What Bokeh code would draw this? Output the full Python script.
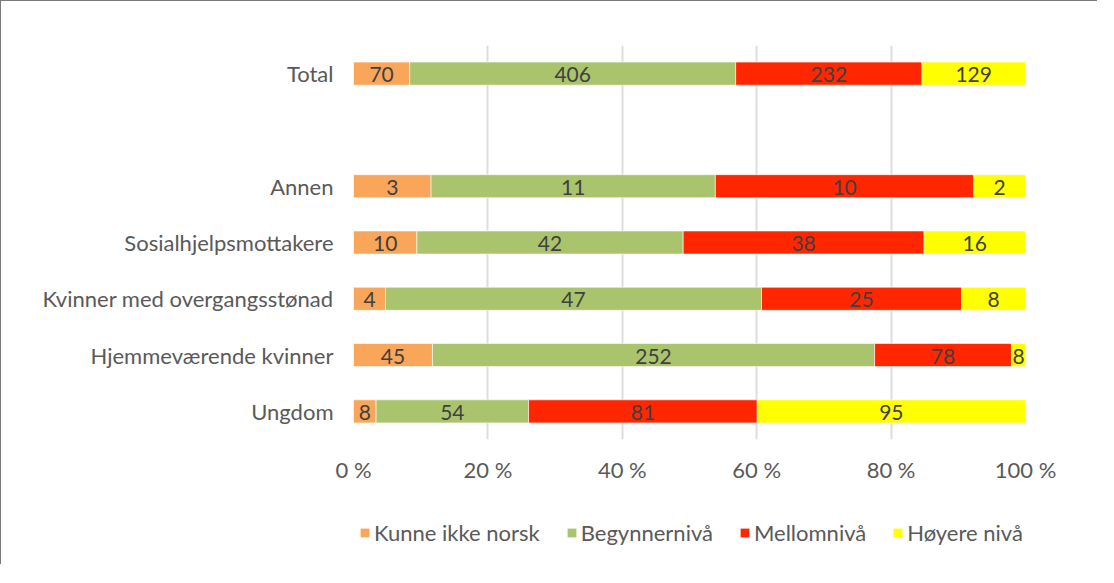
from bokeh.plotting import figure
from bokeh.models import ColumnDataSource, FactorRange, LabelSet, FixedTicker, Legend, LegendItem
from bokeh.core.properties import value
from bokeh.layouts import column
from bokeh.embed import file_html
from bokeh.resources import INLINE

categories = ["Ungdom", "Hjemmeværende kvinner", "Kvinner med overgangsstønad",
              "Sosialhjelpsmottakere", "Annen", "Total"]
factors = ["Ungdom", "Hjemmeværende kvinner", "Kvinner med overgangsstønad",
           "Sosialhjelpsmottakere", "Annen", " ", "Total"]
series = ["Kunne ikke norsk", "Begynnernivå", "Mellomnivå", "Høyere nivå"]
kunne = [8, 45, 4, 10, 3, 70]
begynner = [54, 252, 47, 42, 11, 406]
mellom = [81, 78, 25, 38, 10, 232]
hoyere = [95, 8, 8, 16, 2, 129]
colors = ["#F9A65A", "#A9C46C", "#FF2600", "#FFFF00"]
tick_vals = [0, 20, 40, 60, 80, 100]
tick_labels = {0: "0 %", 20: "20 %", 40: "40 %", 60: "60 %", 80: "80 %", 100: "100 %"}

FONT = "Lato"
BORDER = "1.5px solid #7a7a7a"
vals = [kunne, begynner, mellom, hoyere]
totals = [sum(v[i] for v in vals) for i in range(len(categories))]

p = figure(width=1097, height=494, y_range=FactorRange(*factors), x_range=(0, 100),
           output_backend="svg", toolbar_location=None,
           min_border_left=352, min_border_top=44, min_border_right=73, min_border_bottom=56)
p.styles = {"border-left": BORDER, "border-top": BORDER}

# legend strip below the chart (same frame alignment)
p2 = figure(width=1097, height=70, y_range=FactorRange(*factors), x_range=(0, 100),
            output_backend="svg", toolbar_location=None,
            x_axis_type=None, y_axis_type=None,
            min_border_left=352, min_border_right=73, min_border_top=0, min_border_bottom=0)
p2.styles = {"border-left": BORDER}
p2.grid.grid_line_color = None
p2.outline_line_color = None

items = []
lab_x, lab_y, lab_t = [], [], []
cum = [0.0] * len(categories)
for s, v, c in zip(series, vals, colors):
    left = [cum[i] for i in range(len(categories))]
    right = [cum[i] + 100.0 * v[i] / totals[i] for i in range(len(categories))]
    src = ColumnDataSource(dict(y=categories, left=left, right=right))
    p.hbar(y="y", left="left", right="right", height=0.41, source=src,
           fill_color=c, line_color="white", line_width=0.6)
    r2 = p2.hbar(y="y", left="left", right="right", height=0.41, source=src,
                 fill_color=c, line_color=None, visible=False)
    items.append(LegendItem(label=s, renderers=[r2]))
    for i in range(len(categories)):
        lab_x.append((left[i] + right[i]) / 2)
        lab_y.append(categories[i])
        lab_t.append(str(v[i]))
    cum = right

lsrc = ColumnDataSource(dict(x=lab_x, y=lab_y, t=lab_t))
p.add_layout(LabelSet(x="x", y="y", text="t", source=lsrc, text_align="center",
                      text_baseline="middle", text_font=value(FONT), text_font_size="21px",
                      text_color="#404040", y_offset=-1))

p.xaxis.ticker = FixedTicker(ticks=tick_vals)
p.xaxis.major_label_overrides = tick_labels
for ax in (p.xaxis, p.yaxis):
    ax.axis_line_color = None
    ax.major_tick_line_color = None
    ax.minor_tick_line_color = None
    ax.major_label_text_font = FONT
    ax.major_label_text_font_size = "22px"
    ax.major_label_text_color = "#595959"
p.xaxis.major_label_standoff = 10
p.yaxis.major_label_standoff = 14

p.ygrid.grid_line_color = None
p.xgrid.ticker = FixedTicker(ticks=tick_vals)
p.xgrid.grid_line_color = "#dddddd"
p.xgrid.grid_line_width = 2
p.outline_line_color = None

legend = Legend(items=items, orientation="horizontal", location=(6, 18))
legend.label_text_font = FONT
legend.label_text_font_size = "22px"
legend.label_text_color = "#595959"
legend.glyph_width = 11
legend.glyph_height = 11
legend.label_standoff = 4
legend.spacing = 26
legend.padding = 0
legend.margin = 0
legend.border_line_color = None
legend.background_fill_alpha = 0
legend.inactive_fill_alpha = 0
p2.add_layout(legend, "center")

layout = column(p, p2, spacing=0)
open("out.html", "w").write(file_html(layout, INLINE))
